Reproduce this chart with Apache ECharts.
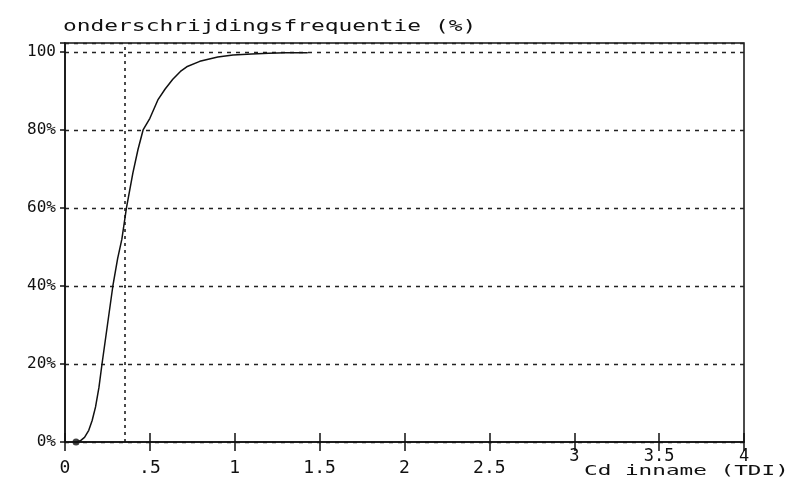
<!DOCTYPE html>
<html lang="nl">
<head>
<meta charset="UTF-8" />
<title>Onderschrijdingsfrequentie Cd inname</title>
<script src="https://cdn.jsdelivr.net/npm/echarts@6.0.0/dist/echarts.min.js"></script>
<style>
  html, body { margin: 0; padding: 0; background: #fff; }
  #lienzo { width: 790px; height: 493px; }
</style>
</head>
<body>
<div id="lienzo"></div>
<script>
// Cd inname (TDI) en onderschrijdingsfrequentie (%)
let inname = [0.065, 0.09, 0.115, 0.14, 0.16, 0.18, 0.2, 0.218, 0.25, 0.282, 0.31, 0.335,
              0.362, 0.4, 0.43, 0.46, 0.5, 0.547, 0.59, 0.635, 0.68, 0.717, 0.794, 0.9,
              0.99, 1.1, 1.2, 1.3, 1.43];
let frequentie = [0, 0.3, 1.2, 3, 5.5, 9, 14, 20, 30, 40, 47, 52,
                  60, 69, 75, 80, 83, 87.7, 90.5, 93, 95, 96.2, 97.6, 98.7,
                  99.2, 99.5, 99.7, 99.8, 99.8];
let beginPunt = [[0.065, 0]];
let verticaleLijn = 0.35;
let xTicks = [0, 0.5, 1, 1.5, 2, 2.5, 3, 3.5, 4];
let yTicks = [0, 20, 40, 60, 80, 100];

let titel = 'onderschrijdingsfrequentie (%)';
let asNaam = 'Cd inname (TDI)';

let lienzo = document.getElementById('lienzo');
let myChart = echarts.init(lienzo);

let mono = '"DejaVu Sans Mono", "Liberation Mono", monospace';

// de labels 3, 3.5 en 4 staan in het origineel iets hoger (naast de asnaam)
function xLabel(v) {
    if (xTicks.indexOf(v) < 0) return '';
    let s = (v > 0 && v < 1) ? String(v).replace('0.', '.') : String(v);
    return v >= 3 ? '{hoog|' + s + '}' : '{laag|' + s + '}';
}

myChart.setOption({
    animation: false,
    backgroundColor: '#fff',
    grid: {
        left: 65,
        right: 46,
        top: 43,
        bottom: 51,
        show: true,
        borderColor: '#111',
        borderWidth: 1.5
    },
    graphic: [
        {
            type: 'text',
            x: 63, y: 19,
            scaleX: 1.43,
            style: { text: titel, font: '16px ' + mono, fill: '#111' }
        },
        {
            type: 'text',
            x: 584, y: 464,
            scaleX: 1.62,
            style: { text: asNaam, font: '14px ' + mono, fill: '#111' }
        }
    ],
    xAxis: [
        {
            type: 'value',
            min: 0,
            max: 4,
            interval: 0.5,
            position: 'bottom',
            axisLine: { lineStyle: { color: '#111', width: 1.5 } },
            axisTick: { show: true, length: 9, lineStyle: { color: '#111', width: 1.5 } },
            axisLabel: {
                margin: 6,
                color: '#111',
                fontSize: 18,
                fontFamily: mono,
                formatter: xLabel,
                rich: {
                    laag: { fontSize: 18, fontFamily: mono, color: '#111', padding: [11, 0, 0, 0] },
                    hoog: { fontSize: 17, fontFamily: mono, color: '#111' }
                }
            },
            splitLine: { show: false }
        },
        {
            type: 'value',
            min: 0,
            max: 4,
            interval: 0.5,
            position: 'bottom',
            axisLine: { show: false },
            axisTick: { show: true, inside: true, length: 9, lineStyle: { color: '#111', width: 1.5 } },
            axisLabel: { show: false },
            splitLine: { show: false }
        }
    ],
    yAxis: {
        type: 'value',
        min: 0,
        max: 102.3,
        interval: 20,
        axisLine: { show: true, lineStyle: { color: '#111', width: 1.5 } },
        axisTick: { show: true, length: 5, lineStyle: { color: '#111', width: 1.5 } },
        axisLabel: {
            margin: 9,
            color: '#111',
            fontSize: 16,
            fontFamily: mono,
            formatter: (v) => {
                if (yTicks.indexOf(v) < 0) return '';
                return v === 100 ? '100' : v + '%';
            }
        },
        splitLine: {
            show: true,
            lineStyle: { color: '#222', width: 1.3, type: [4, 5] }
        }
    },
    series: [
        {
            name: 'onderschrijdingsfrequentie',
            type: 'line',
            data: inname.map((x, i) => [x, frequentie[i]]),
            showSymbol: false,
            symbol: 'none',
            lineStyle: { color: '#111', width: 1.5 },
            markLine: {
                silent: true,
                symbol: 'none',
                label: { show: false },
                lineStyle: { color: '#111', width: 1.5, type: [3, 4] },
                data: [{ xAxis: verticaleLijn }]
            }
        },
        {
            name: 'begin',
            type: 'scatter',
            data: beginPunt,
            symbolSize: 7,
            itemStyle: { color: '#111' }
        }
    ]
});
</script>
</body>
</html>
